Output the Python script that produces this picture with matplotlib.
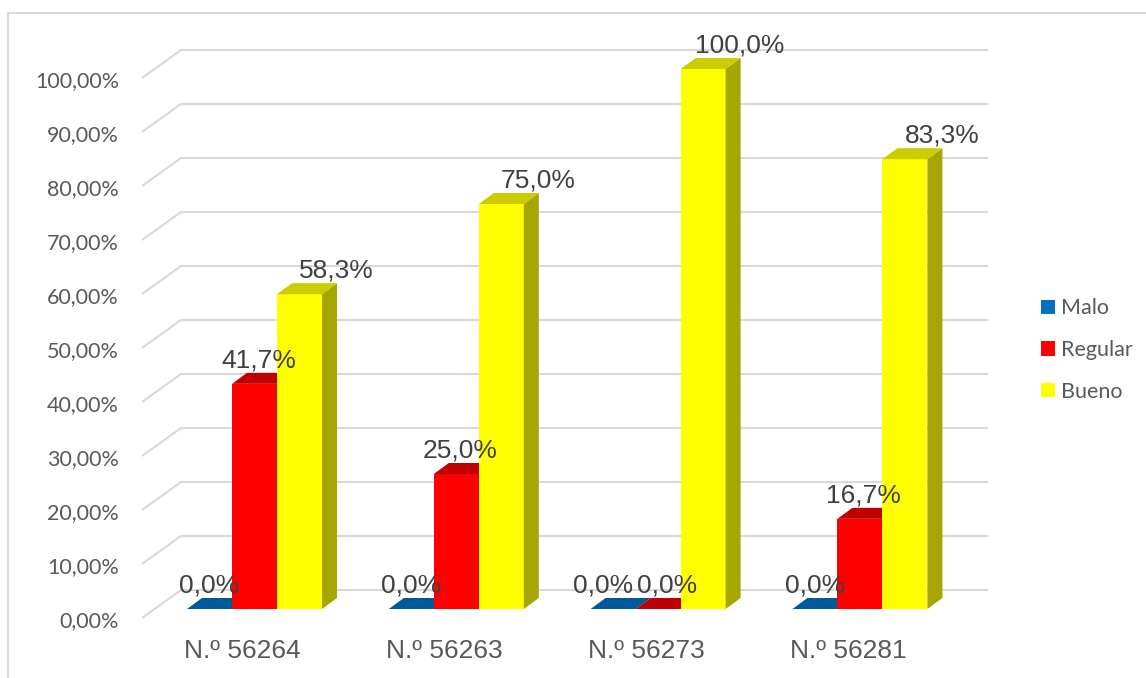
import matplotlib
matplotlib.use("Agg")
import matplotlib.pyplot as plt
from matplotlib.patches import Polygon, Patch

# data
categories = ["N.º 56264", "N.º 56263", "N.º 56273", "N.º 56281"]
series_names = ["Malo", "Regular", "Bueno"]
malo = [0.0, 0.0, 0.0, 0.0]
regular = [41.7, 25.0, 0.0, 16.7]
bueno = [58.3, 75.0, 100.0, 83.3]
y_ticks = [0, 10, 20, 30, 40, 50, 60, 70, 80, 90, 100]

# colours: front, top, side
styles = {
    "Malo": ("#0070C0", "#005A9A", "#004F87"),
    "Regular": ("#FF0000", "#C00000", "#B00000"),
    "Bueno": ("#FFFF00", "#CCCC00", "#A6A600"),
}
label_shift = {"Malo": 0, "Regular": 4, "Bueno": 37}  # px
text_col = "#595959"
grid_col = "#D9D9D9"

W, H = 1146, 678
fig = plt.figure(figsize=(W / 100, H / 100), dpi=100)
ax = fig.add_axes([0, 0, 1, 1])

# pixel scale of the data axes
PX_X = 201.8   # px per category
PX_Y = 5.4     # px per percent
x0_px = 254.5  # pixel of first group center
y0_px = 609    # pixel of 0 % on bar front plane
ax.set_xlim(-x0_px / PX_X, (W - x0_px) / PX_X)
ax.set_ylim(-(H - y0_px) / PX_Y, y0_px / PX_Y)
ax.axis("off")


def dx(p):
    return p / PX_X


def dy(p):
    return p / PX_Y


depth = (dx(15), dy(11))
bar_w = dx(45)
front_off = (-dx(12.5), -dy(9))
back_off = (dx(26.5), dy(19))
wall_x0 = dx(154.5 - x0_px)
wall_x1 = dx(961.5 - x0_px)

# back wall gridlines
for v in y_ticks:
    xs = [wall_x0 + front_off[0], wall_x0 + back_off[0], wall_x1 + back_off[0]]
    ys = [v + front_off[1], v + back_off[1], v + back_off[1]]
    ax.plot(xs, ys, color=grid_col, lw=1.5, zorder=1, solid_capstyle="butt")
    ax.text(wall_x0 + front_off[0] - dx(23), v + front_off[1] - dy(9),
            f"{v},00%", ha="right", va="baseline", color=text_col,
            fontsize=15.5, family="Lato")

# bars
data = {"Malo": malo, "Regular": regular, "Bueno": bueno}
for i, cat in enumerate(categories):
    both_zero = data["Malo"][i] == 0 and data["Regular"][i] == 0
    for k, name in enumerate(series_names):
        v = data[name][i]
        front, top, side = styles[name]
        xl = i + (k - 1.5) * bar_w
        xr = xl + bar_w
        ax.add_patch(Polygon([(xl, 0), (xr, 0), (xr, v), (xl, v)],
                             closed=True, fc=front, ec="none", zorder=3))
        ax.add_patch(Polygon([(xr, 0), (xr + depth[0], depth[1]),
                              (xr + depth[0], v + depth[1]), (xr, v)],
                             closed=True, fc=side, ec="none", zorder=3))
        ax.add_patch(Polygon([(xl, v), (xr, v), (xr + depth[0], v + depth[1]),
                              (xl + depth[0], v + depth[1])],
                             closed=True, fc=top, ec="none", zorder=3))
        shift = label_shift[name]
        # Excel pushes two neighbouring zero labels apart
        if both_zero and name == "Malo":
            shift = -10
        elif both_zero and name == "Regular":
            shift = 9
        lbl = f"{v:.1f}%".replace(".", ",")
        ax.text((xl + xr) / 2 + dx(shift), v + depth[1] + dy(5.5),
                lbl, ha="center", va="baseline", color="#404040",
                fontsize=19, family="Liberation Sans", zorder=5)
    ax.text(i - dx(12), -dy(49), cat, ha="center", va="baseline",
            color=text_col, fontsize=19, family="Liberation Sans")

# outer frame (top and left only visible)
fig.add_artist(plt.Line2D([8 / W, 1], [1 - 13 / H, 1 - 13 / H],
                          color=grid_col, lw=1.5))
fig.add_artist(plt.Line2D([8 / W, 8 / W], [0, 1 - 13 / H],
                          color=grid_col, lw=1.5))

handles = [Patch(fc=styles[n][0], ec="none") for n in series_names]
fig.legend(handles, series_names, loc="center left",
           bbox_to_anchor=(1041 / W, 1 - 350 / H), frameon=False,
           prop={"family": "Lato", "size": 15.5}, labelcolor=text_col,
           handlelength=0.65, handleheight=0.65, handletextpad=0.3,
           labelspacing=1.0, borderpad=0, borderaxespad=0)

fig.savefig("out.png", dpi=100)
